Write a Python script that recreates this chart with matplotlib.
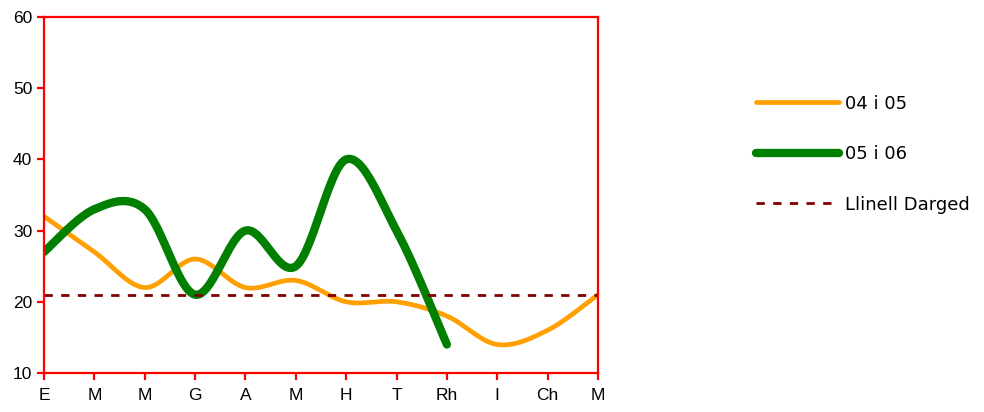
import numpy as np
import matplotlib
matplotlib.use('Agg')
import matplotlib.pyplot as plt

months = ['E', 'M', 'M', 'G', 'A', 'M', 'H', 'T', 'Rh', 'I', 'Ch', 'M']
yr_0405 = [32, 27, 22, 26, 22, 23, 20, 20, 18, 14, 16, 21]
yr_0506 = [27, 33, 33, 21, 30, 25, 40, 30, 14]
target = 21


def smooth(y, n=30):
    # excel-style smoothed line: bezier segments with catmull-rom tangents
    x = np.arange(len(y), dtype=float)
    y = np.asarray(y, dtype=float)
    pts = np.column_stack([x, y])
    ext = np.vstack([pts[0], pts, pts[-1]])
    out = []
    t = np.linspace(0, 1, n)[:, None]
    for i in range(len(pts) - 1):
        p0, p1, p2, p3 = ext[i], ext[i + 1], ext[i + 2], ext[i + 3]
        c1 = p1 + (p2 - p0) / 6.0
        c2 = p2 - (p3 - p1) / 6.0
        seg = ((1 - t) ** 3) * p1 + 3 * ((1 - t) ** 2) * t * c1 + 3 * (1 - t) * t ** 2 * c2 + t ** 3 * p2
        out.append(seg)
    c = np.vstack(out)
    return c[:, 0], c[:, 1]


fig = plt.figure(figsize=(9.84, 4.12), dpi=100)
ax = fig.add_axes([0.0447, 0.0947, 0.5630, 0.864])

x1, y1 = smooth(yr_0405)
x2, y2 = smooth(yr_0506)
l1, = ax.plot(x1, y1, color='#ff9f00', lw=3.4, solid_capstyle='round', label='04 i 05')
l2, = ax.plot(x2, y2, color='#007f00', lw=6, solid_capstyle='round', label='05 i 06')
l3, = ax.plot([0, len(months) - 1], [target, target], color='#800000', lw=2,
              dashes=(3, 3), label='Llinell Darged')

ax.set_xlim(0, len(months) - 1)
ax.set_ylim(10, 60)
ax.set_xticks(range(len(months)))
ax.set_xticklabels(months)
ax.set_yticks(range(10, 61, 10))
for s in ax.spines.values():
    s.set_color('red')
    s.set_linewidth(1.6)
ax.tick_params(colors='red', width=1.6, length=5, labelcolor='black', labelsize=12.5)
ax.tick_params(axis='x', pad=6)
for lab in ax.get_xticklabels() + ax.get_yticklabels():
    lab.set_family('Liberation Sans')

fig.legend(handles=[l1, l2, l3], loc='center left', bbox_to_anchor=(0.752, 0.626),
           frameon=False, handlelength=4.6, handletextpad=0.3,
           labelspacing=1.8, prop={'family': 'DejaVu Sans', 'size': 13})

plt.savefig('out.png', dpi=100)
